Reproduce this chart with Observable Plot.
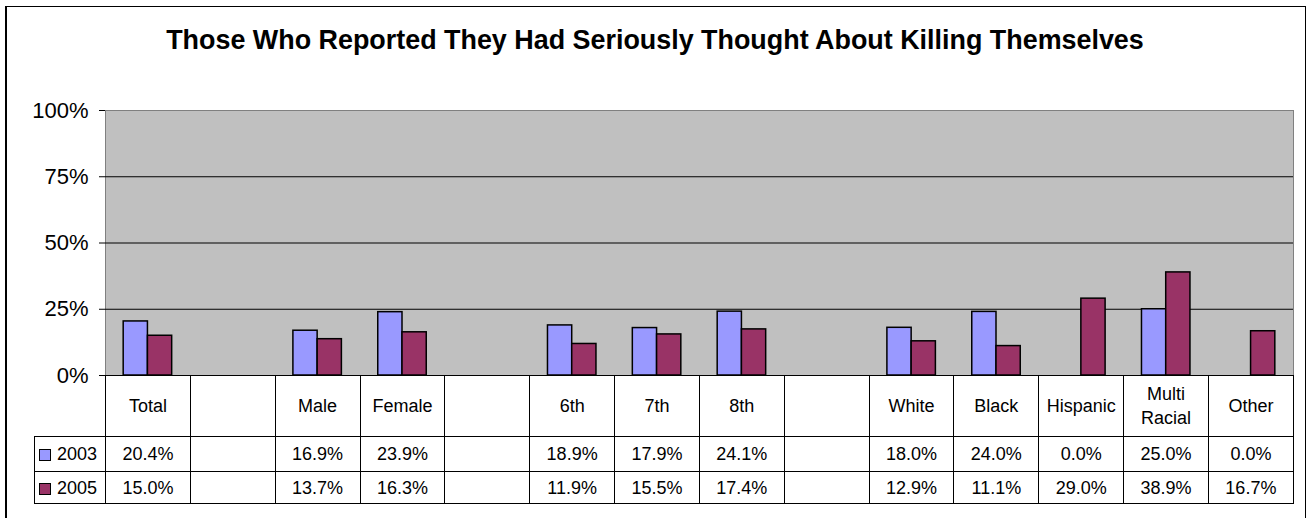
<!DOCTYPE html>
<html>
<head>
<meta charset="utf-8">
<script src="https://cdn.jsdelivr.net/npm/d3@7"></script>
<script src="https://cdn.jsdelivr.net/npm/@observablehq/plot@0.6"></script>
<style>
  html, body { margin: 0; padding: 0; background: #fff; }
  #wrap { position: relative; width: 1312px; height: 518px; overflow: hidden; font-family: "Liberation Sans", Arial, sans-serif; color: #000; }
  #frame { position: absolute; left: 5px; top: 6px; width: 1298px; height: 600px; border: 1px solid #000; border-left-width: 2px; pointer-events: none; }
  #title { position: absolute; left: 0; top: 25px; width: 1310px; text-align: center; font-weight: bold; font-size: 26.9px; white-space: nowrap; }
  #chart { position: absolute; left: 0; top: 0; }
  #tbl { position: absolute; left: 34px; top: 375px; border-collapse: collapse; table-layout: fixed; font-size: 18px; }
  #tbl td { border: 1px solid #000; text-align: center; padding: 0; line-height: 24px; }
  #tbl td.corner { border-left: none; border-top: none; }
  #tbl td.leg { text-align: left; padding-left: 4px; white-space: nowrap; }
  .sw { display: inline-block; width: 10px; height: 10px; border: 1px solid #000; margin-right: 6px; vertical-align: -1px; }
</style>
</head>
<body>
<div id="wrap">
  <div id="chart"></div>
  <div id="title"></div>
  <table id="tbl"></table>
  <div id="frame"></div>
</div>
<script>
const titleText = "Those Who Reported They Had Seriously Thought About Killing Themselves";
const categories = ["Total", "", "Male", "Female", "", "6th", "7th", "8th", "", "White", "Black", "Hispanic", "Multi Racial", "Other"];
const years = ["2003", "2005"];
const values2003 = [20.4, null, 16.9, 23.9, null, 18.9, 17.9, 24.1, null, 18.0, 24.0, 0.0, 25.0, 0.0];
const values2005 = [15.0, null, 13.7, 16.3, null, 11.9, 15.5, 17.4, null, 12.9, 11.1, 29.0, 38.9, 16.7];
const yTicks = [0, 25, 50, 75, 100];
const colors = ["#9999FF", "#993366"];

document.getElementById("title").textContent = titleText;

const keys = categories.map((c, i) => i + ":" + c);
const series = [values2003, values2005];
const rows = [];
years.forEach((yr, s) => {
  series[s].forEach((v, i) => {
    if (v != null) rows.push({key: keys[i], year: yr, value: v / 100});
  });
});

const W = 1312, mL = 105, mR = 19;
const step = (W - mL - mR) / categories.length;
const bw = step / 3.5;          // Excel gap width 150%
const outer = (step - 2 * bw) / 2;

const chart = Plot.plot({
  width: W,
  height: 392,
  marginLeft: mL,
  marginRight: mR,
  marginTop: 110,
  marginBottom: 17,
  style: {background: "transparent", fontFamily: "'Liberation Sans', Arial, sans-serif", fontSize: "22px", color: "#000", overflow: "visible"},
  x: {domain: keys, padding: 0, round: false, axis: null},
  y: {domain: [0, 1], ticks: yTicks.map(t => t / 100), tickFormat: d => Math.round(d * 100) + "%", tickSize: 6, tickPadding: 11, line: true, label: null},
  color: {domain: years, range: colors},
  marks: [
    Plot.frame({fill: "#C0C0C0", stroke: "#808080"}),
    Plot.ruleY(yTicks.slice(1, -1).map(t => t / 100), {stroke: "#000"}),
    Plot.barY(rows.filter(d => d.year === years[0] && d.value > 0), {x: "key", y: "value", fill: "year", stroke: "#000", strokeWidth: 1.5, insetLeft: outer, insetRight: step - outer - bw}),
    Plot.barY(rows.filter(d => d.year === years[1] && d.value > 0), {x: "key", y: "value", fill: "year", stroke: "#000", strokeWidth: 1.5, insetLeft: outer + bw, insetRight: outer}),
    Plot.ruleY([0], {stroke: "#000"})
  ]
});
document.getElementById("chart").appendChild(chart);

// data table
const fmt = v => (v == null ? "" : v.toFixed(1) + "%");
const tbl = document.getElementById("tbl");
const colg = document.createElement("colgroup");
colg.innerHTML = `<col style="width:71px">` + categories.map(() => `<col style="width:${step.toFixed(3)}px">`).join("");
tbl.appendChild(colg);
const r0 = document.createElement("tr");
r0.style.height = "61px";
r0.innerHTML = `<td class="corner"></td>` + categories.map(c => `<td>${c.split(" ").join("<br>")}</td>`).join("");
tbl.appendChild(r0);
years.forEach((yr, s) => {
  const tr = document.createElement("tr");
  tr.style.height = s === 0 ? "35px" : "32px";
  tr.innerHTML = `<td class="leg"><span class="sw" style="background:${colors[s]}"></span>${yr}</td>` +
    series[s].map(v => `<td>${fmt(v)}</td>`).join("");
  tbl.appendChild(tr);
});
</script>
</body>
</html>
